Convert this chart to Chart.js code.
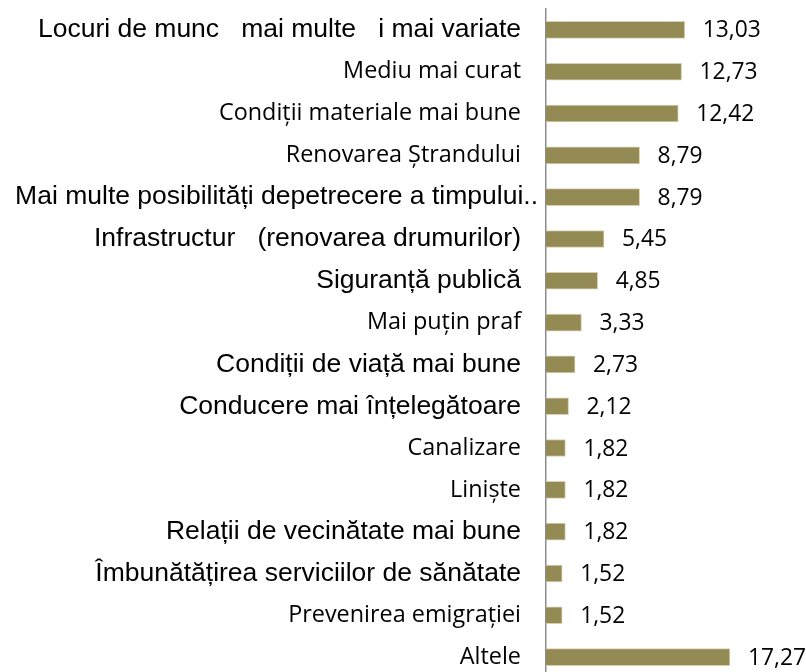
<!DOCTYPE html>
<html>
<head>
<meta charset="utf-8">
<script src="https://cdn.jsdelivr.net/npm/chart.js@4/dist/chart.umd.min.js"></script>
<style>
  html, body { margin: 0; padding: 0; background: #fff; overflow: hidden; }
  #wrap { position: absolute; left: 0; top: 0; width: 806px; height: 680px; }
</style>
</head>
<body>
<div id="wrap"><canvas id="c" width="806" height="680"></canvas></div>
<script>
const categories = [
  "Locuri de munc   mai multe   i mai variate",
  "Mediu mai curat",
  "Condiții materiale mai bune",
  "Renovarea Ștrandului",
  "Mai multe posibilități depetrecere a timpului..",
  "Infrastructur   (renovarea drumurilor)",
  "Siguranță publică",
  "Mai puțin praf",
  "Condiții de viață mai bune",
  "Conducere mai înțelegătoare",
  "Canalizare",
  "Liniște",
  "Relații de vecinătate mai bune",
  "Îmbunătățirea serviciilor de sănătate",
  "Prevenirea emigrației",
  "Altele"
];
const values = [13.03, 12.73, 12.42, 8.79, 8.79, 5.45, 4.85, 3.33, 2.73, 2.12, 1.82, 1.82, 1.82, 1.52, 1.52, 17.27];
// which labels are set in the larger sans font (true) vs. the smaller humanist font (false)
const largeFontLabel = [true, false, false, false, true, true, true, false, true, true, false, false, true, true, false, false];

const ARIAL = { family: "'Liberation Sans', Arial, sans-serif", size: 26.5 };
const CALIBRI = { family: "'Open Sans', sans-serif", size: 23.4 };

// the truncated long label overflows toward the axis, as in the original
const overflowLabel = {
  id: 'overflowLabel',
  beforeDraw(chart) {
    const items = chart.scales.y.getLabelItems();
    const idx = categories.indexOf("Mai multe posibilități depetrecere a timpului..");
    if (items[idx] && !items[idx]._shifted) {
      items[idx].options.translation[0] += 17;
      items[idx]._shifted = true;
    }
  }
};

const valueLabels = {
  id: 'valueLabels',
  afterDatasetsDraw(chart) {
    const ctx = chart.ctx;
    const meta = chart.getDatasetMeta(0);
    ctx.save();
    ctx.font = "22.8px 'Open Sans', sans-serif";
    ctx.fillStyle = '#000';
    ctx.textAlign = 'left';
    ctx.textBaseline = 'middle';
    meta.data.forEach((bar, i) => {
      const txt = values[i].toFixed(2).replace('.', ',');
      ctx.fillText(txt, bar.x + 18, bar.y + 1);
    });
    ctx.restore();
  }
};

new Chart(document.getElementById('c'), {
  type: 'bar',
  data: {
    labels: categories,
    datasets: [{
      data: values,
      backgroundColor: '#948A54',
      borderColor: '#D6D0B2',
      borderWidth: 1,
      barThickness: 17
    }]
  },
  options: {
    indexAxis: 'y',
    responsive: false,
    animation: false,
    layout: { padding: { top: 9, bottom: 2, right: 47, left: 0 } },
    plugins: { legend: { display: false }, tooltip: { enabled: false } },
    scales: {
      x: { display: false, min: 0, max: 20 },
      y: {
        afterFit(scale) {
          scale.width = 546;
          scale.paddingTop = 0;
          scale.paddingBottom = 0;
        },
        grid: { display: false, drawTicks: true, tickLength: 25 },
        border: { display: true, color: '#8c8c8c', width: 1.5 },
        ticks: {
          color: '#000',
          padding: 0,
          autoSkip: false,
          font: (ctx) => largeFontLabel[ctx.index] ? ARIAL : CALIBRI
        }
      }
    }
  },
  plugins: [overflowLabel, valueLabels]
});
</script>
</body>
</html>
